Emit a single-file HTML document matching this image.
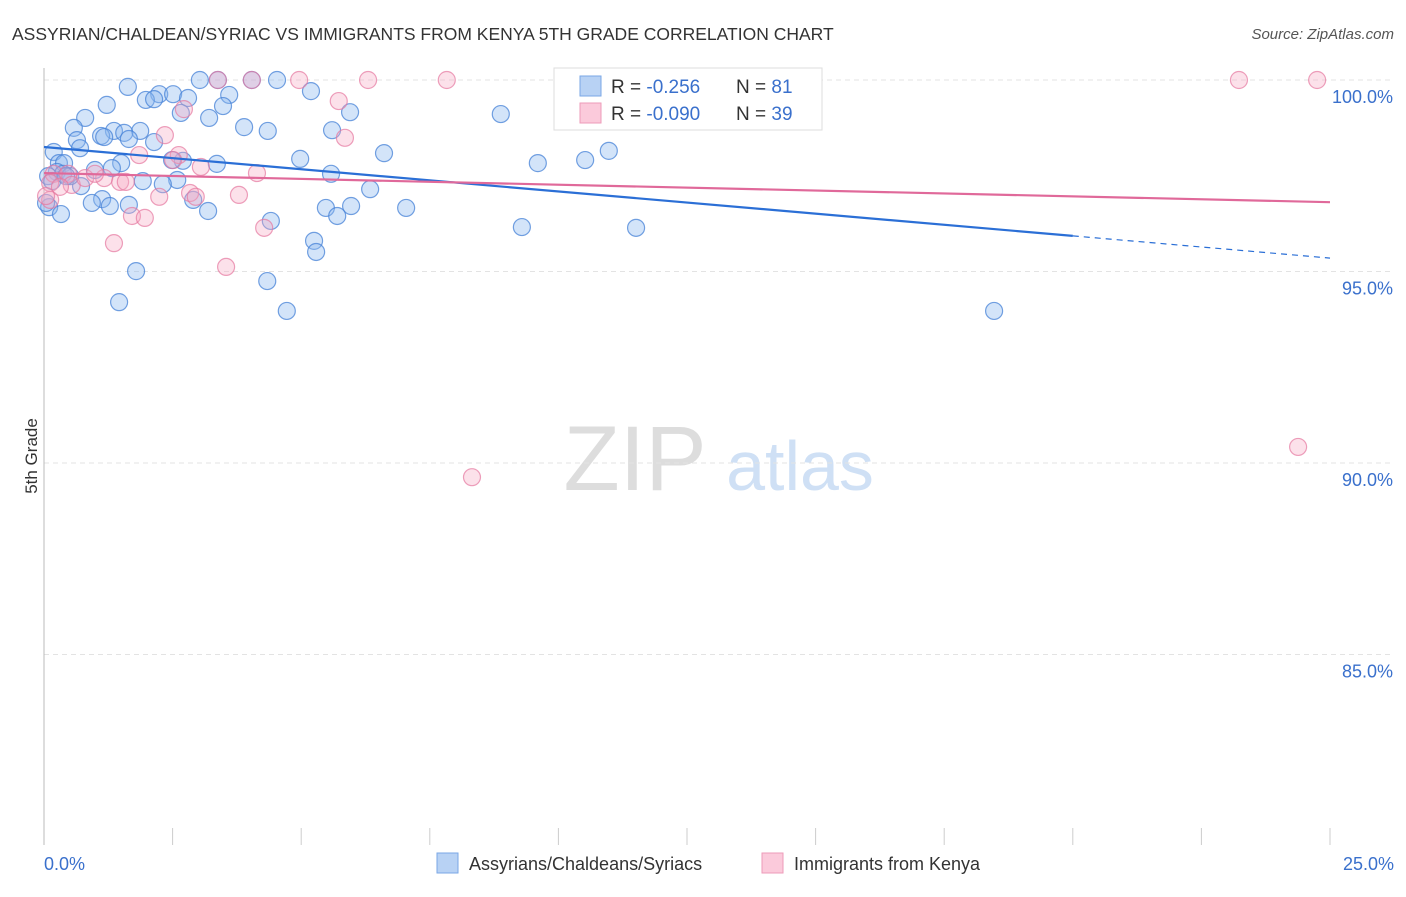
<!DOCTYPE html>
<html><head><meta charset="utf-8">
<style>
body{margin:0;background:#fff;font-family:"Liberation Sans",sans-serif;}
svg text{font-family:"Liberation Sans",sans-serif;}
</style></head>
<body>
<svg id="chart" width="1406" height="892" xmlns="http://www.w3.org/2000/svg">
<text x="12" y="40" font-size="17.5" fill="#333">ASSYRIAN/CHALDEAN/SYRIAC VS IMMIGRANTS FROM KENYA 5TH GRADE CORRELATION CHART</text>
<text x="1394" y="39" font-size="15" fill="#555" font-style="italic" text-anchor="end">Source: ZipAtlas.com</text>
<text x="37" y="456" font-size="17" fill="#333" text-anchor="middle" transform="rotate(-90 37 456)">5th Grade</text>
<g>
<text x="635" y="490" font-size="92" fill="#ddd" font-family="Liberation Serif" text-anchor="middle">ZIP</text>
<text x="800" y="490" font-size="70" fill="#cfe0f5" text-anchor="middle">atlas</text>
</g>
<g id="grid"></g>
<g id="axes"></g>
<g id="points"></g>
<g id="lines"></g>
<g>
<rect x="554" y="68" width="268" height="62" fill="#fff" stroke="#ddd"/>
<rect x="580" y="76" width="21" height="20" fill="#b8d2f4" stroke="#7aa7e6"/>
<rect x="580" y="103" width="21" height="20" fill="#fbcadb" stroke="#ee9bb8"/>
<text x="611" y="93" font-size="19" fill="#333">R = <tspan fill="#3a70cc"> -0.256</tspan><tspan x="736">N = </tspan><tspan fill="#3a70cc"> 81</tspan></text>
<text x="611" y="120" font-size="19" fill="#333">R = <tspan fill="#3a70cc">-0.090</tspan><tspan x="736">N = </tspan><tspan fill="#3a70cc">39</tspan></text>
</g>
<g>
<rect x="437" y="853" width="21" height="20" fill="#b8d2f4" stroke="#7aa7e6"/>
<text x="469" y="870" font-size="18" fill="#333">Assyrians/Chaldeans/Syriacs</text>
<rect x="762" y="853" width="21" height="20" fill="#fbcadb" stroke="#ee9bb8"/>
<text x="794" y="870" font-size="18" fill="#333">Immigrants from Kenya</text>
</g>
</svg>
<script>
const yTicks=[100,95,90,85];
const yTickLabels=["100.0%","95.0%","90.0%","85.0%"];
const xTickLabels=["0.0%","25.0%"];
const blueX=[1.63,3.03,3.38,4.04,4.53,5.19,2.24,2.51,1.98,2.14,2.80,3.60,3.48,1.22,2.66,3.21,0.80,5.95,8.88,0.58,3.89,4.35,5.60,1.87,1.36,1.56,1.11,1.17,1.65,2.14,0.64,0.70,0.19,6.61,4.98,10.98,10.52,9.60,2.70,2.49,1.50,0.29,0.39,0.99,1.32,3.36,5.58,0.25,0.37,2.59,1.92,0.72,2.31,6.34,1.65,1.13,0.93,1.28,2.90,3.19,5.48,5.97,7.04,0.10,0.33,5.70,4.41,9.29,11.51,5.25,5.29,1.79,4.34,1.46,4.72,18.47,0.08,0.16,0.04,0.51,0.43];
const blueY=[99.82,100,100,100,100,99.71,99.63,99.63,99.48,99.50,99.53,99.61,99.32,99.35,99.14,99.01,99.01,99.16,99.11,98.75,98.77,98.67,98.69,98.67,98.67,98.62,98.54,98.51,98.46,98.38,98.43,98.22,98.12,98.09,97.94,98.15,97.91,97.83,97.89,97.91,97.83,97.83,97.83,97.65,97.70,97.81,97.55,97.60,97.55,97.39,97.36,97.23,97.28,97.15,96.74,96.89,96.79,96.71,96.87,96.58,96.66,96.71,96.66,96.68,96.50,96.45,96.32,96.16,96.14,95.80,95.51,95.01,94.75,94.20,93.97,93.97,97.49,97.36,96.79,97.49,97.49];
const pinkX=[3.38,4.04,4.96,6.30,7.83,23.23,24.75,5.73,2.72,5.85,2.35,1.85,2.62,2.51,3.05,4.14,0.19,0.47,1.17,1.48,1.59,0.54,2.84,3.79,2.24,2.95,1.71,1.96,4.28,1.36,3.54,8.32,24.38,0.12,0.12,0.31,0.80,0.99,0.04];
const pinkY=[100,100,100,100,100,100,100,99.45,99.24,98.49,98.56,98.04,98.04,97.91,97.73,97.57,97.55,97.55,97.44,97.34,97.34,97.26,97.05,97.00,96.95,96.95,96.45,96.40,96.14,95.74,95.12,89.63,90.42,97.31,96.87,97.21,97.44,97.55,96.97];
const blueTrend=[98.25,95.35];
const blueSolidEnd=20;
const pinkTrend=[97.57,96.81];

const NS="http://www.w3.org/2000/svg";
const X=v=>44+v/25*1286;
const Y=v=>80+(100-v)*38.3;
function mk(tag,attrs,parent){const e=document.createElementNS(NS,tag);for(const k in attrs)e.setAttribute(k,attrs[k]);parent.appendChild(e);return e;}
const grid=document.getElementById('grid'),axes=document.getElementById('axes'),pts=document.getElementById('points'),lines=document.getElementById('lines');
yTicks.forEach((t,i)=>{
 const g=mk('line',{x1:44,x2:1394,y1:Y(t),y2:Y(t),stroke:'#e3e3e3','stroke-dasharray':'5,4'},grid);
 
 
 const tx=mk('text',{x:1393,y:Y(t)+23,'font-size':18,fill:'#3a70cc','text-anchor':'end'},axes);
 tx.textContent=yTickLabels[i];
 
 
});
const ya=mk('line',{x1:44,x2:44,y1:68,y2:845,stroke:'#bbb'},axes);


for(let i=1;i<=10;i++){
 const tk=mk('line',{x1:X(i*2.5),x2:X(i*2.5),y1:828,y2:845,stroke:'#ccc'},axes);
 
 
}
[[0,'start',44],[25,'end',1394]].forEach((d,i)=>{
 const tx=mk('text',{x:d[2],y:870,'font-size':18,fill:'#3a70cc','text-anchor':d[1]},axes);
 tx.textContent=xTickLabels[i];
 
 
});
function dots(xs,ys,fill,stroke,name){
 xs.forEach((x,i)=>{
  const c=mk('circle',{cx:X(x),cy:Y(ys[i]),r:8.5,fill:fill,stroke:stroke,'stroke-width':1.2},pts);
  
  
 });
}
dots(blueX,blueY,'rgba(140,185,238,0.38)','rgba(70,130,215,0.75)','assyrian-point');
dots(pinkX,pinkY,'rgba(245,170,195,0.35)','rgba(230,120,160,0.7)','kenya-point');
const bAt=x=>blueTrend[0]+(blueTrend[1]-blueTrend[0])*x/25;
const bl=mk('line',{x1:X(0),y1:Y(bAt(0)),x2:X(blueSolidEnd),y2:Y(bAt(blueSolidEnd)),stroke:'#2b6fd6','stroke-width':2.2},lines);


const bd=mk('line',{x1:X(blueSolidEnd),y1:Y(bAt(blueSolidEnd)),x2:X(25),y2:Y(bAt(25)),stroke:'#2b6fd6','stroke-width':1.2,'stroke-dasharray':'6,5'},lines);


const pl=mk('line',{x1:X(0),y1:Y(pinkTrend[0]),x2:X(25),y2:Y(pinkTrend[1]),stroke:'#e0699a','stroke-width':2.2},lines);


</script>
</body></html>
